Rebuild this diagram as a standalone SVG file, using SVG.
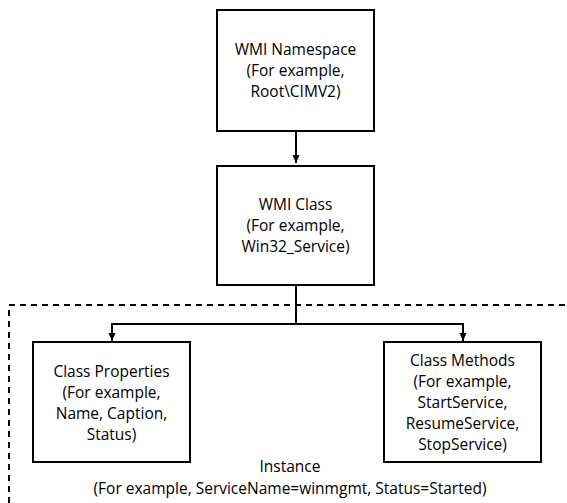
<svg xmlns="http://www.w3.org/2000/svg" width="567" height="503" viewBox="0 0 567 503">
<style>
.box{fill:#fff;stroke:#000;stroke-width:2}
.t{font-family:"Open Sans","Noto Sans",sans-serif;font-size:15.5px;fill:#000;text-anchor:middle}
.ln{fill:none;stroke:#000;stroke-width:2}
.dash{fill:none;stroke:#000;stroke-width:2;stroke-dasharray:6 5}
</style>
<defs>
<marker id="ah" viewBox="0 0 8 8" refX="8" refY="4" markerWidth="8" markerHeight="8" markerUnits="userSpaceOnUse" orient="auto">
<path d="M0,0.5 L8,4 L0,7.5 Z" fill="#000"/>
</marker>
</defs>
<rect width="567" height="503" fill="#fff"/>
<g id="instance-boundary">
<path class="dash" d="M9,503 L9,305 L566,305"/>
</g>
<g id="connectors">
<path class="ln" d="M296,131 L296,163" marker-end="url(#ah)"/>
<path class="ln" d="M296,285 L296,324"/>
<path class="ln" d="M112,324 L463,324"/>
<path class="ln" d="M112,323 L112,341" marker-end="url(#ah)"/>
<path class="ln" d="M463,323 L463,341" marker-end="url(#ah)"/>
</g>
<g id="namespace">
<rect class="box" x="217" y="10" width="157" height="121"/>
<text class="t" x="295.5" y="55">WMI Namespace</text>
<text class="t" x="295.5" y="76">(For example,</text>
<text class="t" x="295.5" y="97">Root\CIMV2)</text>
</g>
<g id="class">
<rect class="box" x="217" y="166" width="157" height="119"/>
<text class="t" x="295.5" y="210">WMI Class</text>
<text class="t" x="295.5" y="231">(For example,</text>
<text class="t" x="295.5" y="252">Win32_Service)</text>
</g>
<g id="properties">
<rect class="box" x="33" y="342" width="157" height="120"/>
<text class="t" x="111.5" y="377">Class Properties</text>
<text class="t" x="111.5" y="398">(For example,</text>
<text class="t" x="111.5" y="419">Name, Caption,</text>
<text class="t" x="111.5" y="440">Status)</text>
</g>
<g id="methods">
<rect class="box" x="384" y="342" width="157" height="120"/>
<text class="t" x="462.5" y="366">Class Methods</text>
<text class="t" x="462.5" y="387">(For example,</text>
<text class="t" x="462.5" y="408">StartService,</text>
<text class="t" x="462.5" y="429">ResumeService,</text>
<text class="t" x="462.5" y="450">StopService)</text>
</g>
<g id="instance-label">
<text class="t" x="290" y="472">Instance</text>
<text class="t" x="290" y="494">(For example, ServiceName=winmgmt, Status=Started)</text>
</g>
</svg>
